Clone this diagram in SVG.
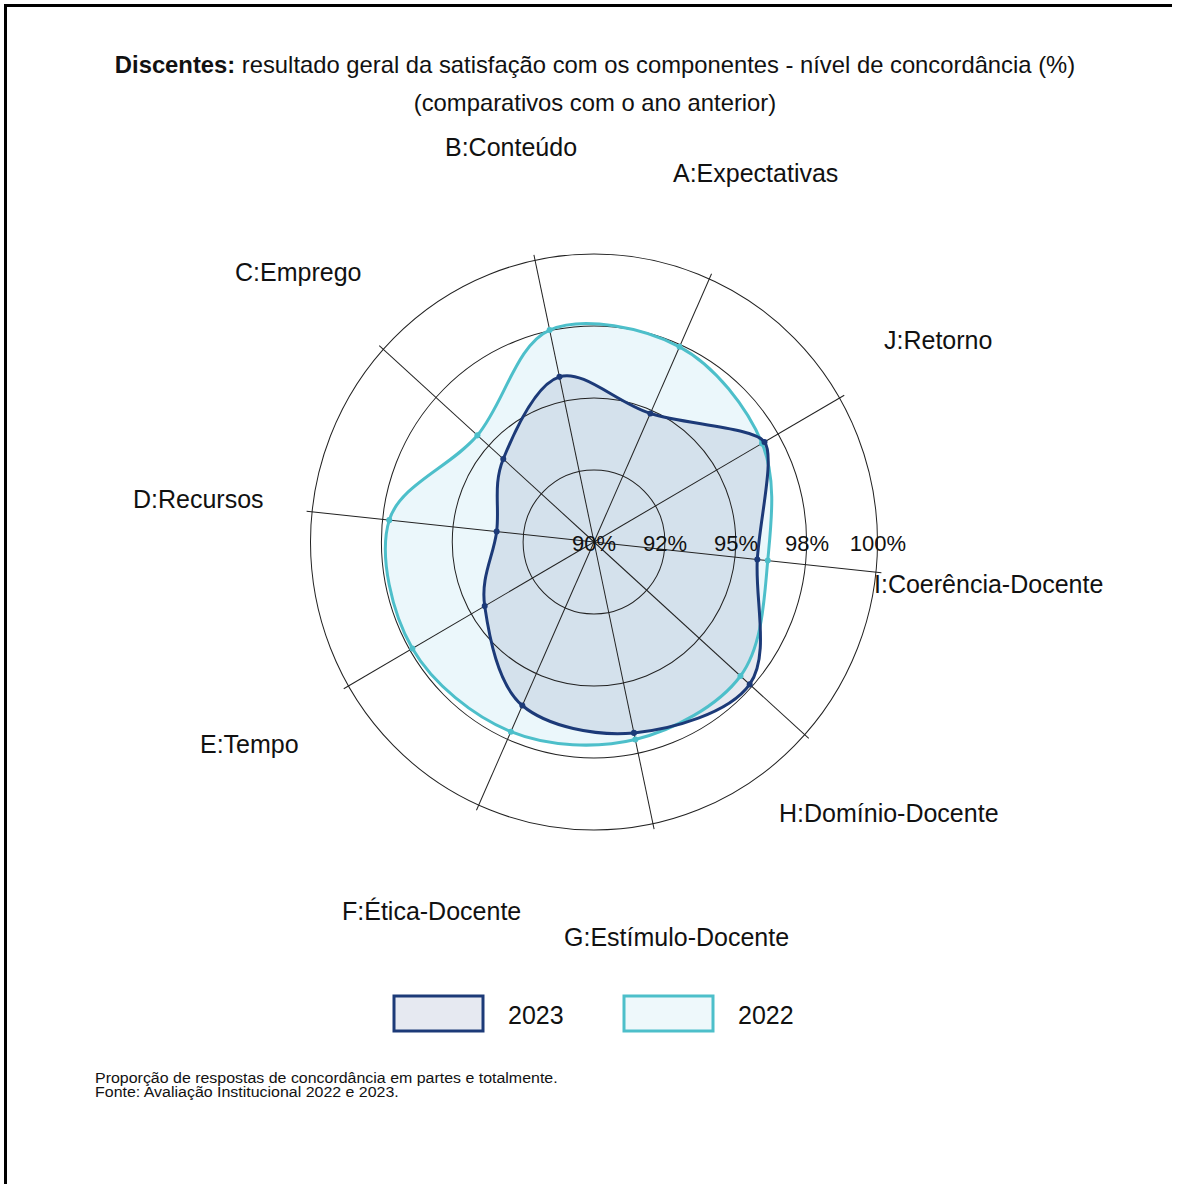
<svg xmlns="http://www.w3.org/2000/svg" width="1179" height="1184" viewBox="0 0 1179 1184">
<style>
.t{font-family:"Liberation Sans",Arial,sans-serif;fill:#111}
.ax{font-size:25px}
.rl{font-size:22px;text-anchor:middle}
.ring{fill:none;stroke:#222;stroke-width:1}
.spk{stroke:#222;stroke-width:1}
.l23{fill:none;stroke:#1c3a78;stroke-width:3}
.l22{fill:none;stroke:#4dbfca;stroke-width:3}
.d23{fill:#1c3a78}
.d22{fill:#4dbfca}
</style>
<rect width="1179" height="1184" fill="#fff"/>
<g id="frame" stroke="#000" stroke-width="3" fill="none">
<path d="M5.5 1184 V5.5 H1172"/>
</g>
<g id="title" class="t">
<text x="595" y="73" font-size="23.8" text-anchor="middle"><tspan font-weight="bold">Discentes:</tspan> resultado geral da satisfação com os componentes - nível de concordância (%)</text>
<text x="595" y="111" font-size="23.8" text-anchor="middle">(comparativos com o ano anterior)</text>
</g>
<g id="chart" transform="translate(594,542) scale(1,1.016)">
<path id="fill2022" fill="#ebf7fb" d="M85.53 -192.11 C50.12 -210.71 -10.66 -223.15 -44.35 -208.63 C-78.04 -194.11 -89.85 -136.17 -116.59 -104.98 C-143.33 -73.79 -193.93 -56.49 -204.77 -21.52 C-215.61 13.45 -201.87 70.14 -181.60 104.85 C-161.33 139.56 -120.28 171.80 -83.13 186.72 C-45.98 201.64 3.04 203.49 41.31 194.35 C79.58 185.21 124.40 161.23 146.47 131.88 C168.54 102.53 170.14 56.42 173.74 18.26 C177.34 -19.90 182.79 -61.99 168.09 -97.05 C153.39 -132.11 120.94 -173.51 85.53 -192.11 Z"/>
<path id="fill2023" fill="#1c3a78" fill-opacity="0.11" d="M56.33 -126.52 C22.15 -137.21 -10.04 -170.03 -34.55 -162.56 C-59.06 -155.09 -80.26 -107.09 -90.73 -81.70 C-101.20 -56.31 -94.27 -34.36 -97.36 -10.23 C-100.45 13.90 -113.57 34.57 -109.29 63.10 C-105.01 91.63 -96.53 140.16 -71.66 160.96 C-46.79 181.76 2.05 191.36 39.94 187.90 C77.83 184.44 135.12 168.64 155.68 140.18 C176.24 111.72 160.83 56.93 163.30 17.16 C165.77 -22.61 181.22 -84.08 170.52 -98.45 C159.82 -112.82 90.51 -115.83 56.33 -126.52 Z"/>
<g id="grid">
<circle class="ring" r="70.9"/>
<circle class="ring" r="141.75"/>
<circle class="ring" r="212.6"/>
<circle class="ring" r="283.5"/>
<line class="spk" x1="0" y1="0" x2="117.54" y2="-264.0"/>
<line class="spk" x1="0" y1="0" x2="-60.08" y2="-282.68"/>
<line class="spk" x1="0" y1="0" x2="-214.76" y2="-193.37"/>
<line class="spk" x1="0" y1="0" x2="-287.41" y2="-30.20"/>
<line class="spk" x1="0" y1="0" x2="-250.27" y2="144.5"/>
<line class="spk" x1="0" y1="0" x2="-117.54" y2="264.0"/>
<line class="spk" x1="0" y1="0" x2="60.08" y2="282.68"/>
<line class="spk" x1="0" y1="0" x2="214.76" y2="193.37"/>
<line class="spk" x1="0" y1="0" x2="287.41" y2="30.20"/>
<line class="spk" x1="0" y1="0" x2="250.27" y2="-144.5"/>
</g>
<g id="series2022">
<path class="l22" d="M85.53 -192.11 C50.12 -210.71 -10.66 -223.15 -44.35 -208.63 C-78.04 -194.11 -89.85 -136.17 -116.59 -104.98 C-143.33 -73.79 -193.93 -56.49 -204.77 -21.52 C-215.61 13.45 -201.87 70.14 -181.60 104.85 C-161.33 139.56 -120.28 171.80 -83.13 186.72 C-45.98 201.64 3.04 203.49 41.31 194.35 C79.58 185.21 124.40 161.23 146.47 131.88 C168.54 102.53 170.14 56.42 173.74 18.26 C177.34 -19.90 182.79 -61.99 168.09 -97.05 C153.39 -132.11 120.94 -173.51 85.53 -192.11 Z"/>
<circle class="d22" cx="85.53" cy="-192.11" r="3"/>
<circle class="d22" cx="-44.35" cy="-208.63" r="3"/>
<circle class="d22" cx="-116.59" cy="-104.98" r="3"/>
<circle class="d22" cx="-204.77" cy="-21.52" r="3"/>
<circle class="d22" cx="-181.60" cy="104.85" r="3"/>
<circle class="d22" cx="-83.13" cy="186.72" r="3"/>
<circle class="d22" cx="41.31" cy="194.35" r="3"/>
<circle class="d22" cx="146.47" cy="131.88" r="3"/>
<circle class="d22" cx="173.74" cy="18.26" r="3"/>
<circle class="d22" cx="168.09" cy="-97.05" r="3"/>
</g>
<g id="series2023">
<path class="l23" d="M56.33 -126.52 C22.15 -137.21 -10.04 -170.03 -34.55 -162.56 C-59.06 -155.09 -80.26 -107.09 -90.73 -81.70 C-101.20 -56.31 -94.27 -34.36 -97.36 -10.23 C-100.45 13.90 -113.57 34.57 -109.29 63.10 C-105.01 91.63 -96.53 140.16 -71.66 160.96 C-46.79 181.76 2.05 191.36 39.94 187.90 C77.83 184.44 135.12 168.64 155.68 140.18 C176.24 111.72 160.83 56.93 163.30 17.16 C165.77 -22.61 181.22 -84.08 170.52 -98.45 C159.82 -112.82 90.51 -115.83 56.33 -126.52 Z"/>
<circle class="d23" cx="56.33" cy="-126.52" r="3"/>
<circle class="d23" cx="-34.55" cy="-162.56" r="3"/>
<circle class="d23" cx="-90.73" cy="-81.70" r="3"/>
<circle class="d23" cx="-97.36" cy="-10.23" r="3"/>
<circle class="d23" cx="-109.29" cy="63.10" r="3"/>
<circle class="d23" cx="-71.66" cy="160.96" r="3"/>
<circle class="d23" cx="39.94" cy="187.90" r="3"/>
<circle class="d23" cx="155.68" cy="140.18" r="3"/>
<circle class="d23" cx="163.30" cy="17.16" r="3"/>
<circle class="d23" cx="170.52" cy="-98.45" r="3"/>
</g>
</g>
<g id="ring-labels" class="t rl">
<text x="594" y="551">90%</text>
<text x="665" y="551">92%</text>
<text x="736" y="551">95%</text>
<text x="807" y="551">98%</text>
<text x="878" y="551">100%</text>
</g>
<g id="axis-labels" class="t ax">
<text id="lblA" x="673" y="182">A:Expectativas</text>
<text id="lblB" x="445" y="156">B:Conteúdo</text>
<text id="lblC" x="235" y="281">C:Emprego</text>
<text id="lblD" x="133" y="508">D:Recursos</text>
<text id="lblE" x="200" y="753">E:Tempo</text>
<text id="lblF" x="342" y="920">F:Ética-Docente</text>
<text id="lblG" x="564" y="946">G:Estímulo-Docente</text>
<text id="lblH" x="779" y="822">H:Domínio-Docente</text>
<text id="lblI" x="874" y="593">I:Coerência-Docente</text>
<text id="lblJ" x="884" y="349">J:Retorno</text>
</g>
<g id="legend">
<rect x="394" y="996" width="89" height="35" fill="#e6e9f1" stroke="#1c3a78" stroke-width="3"/>
<text class="t" x="508" y="1024" font-size="25">2023</text>
<rect x="624" y="996" width="89" height="35" fill="#eef8fb" stroke="#4dbfca" stroke-width="3"/>
<text class="t" x="738" y="1024" font-size="25">2022</text>
</g>
<g id="footnote" class="t" font-size="14.5" transform="scale(1.1,1)">
<text x="86.4" y="1083">Proporção de respostas de concordância em partes e totalmente.</text>
<text x="86.4" y="1097">Fonte: Avaliação Institucional 2022 e 2023.</text>
</g>
</svg>
